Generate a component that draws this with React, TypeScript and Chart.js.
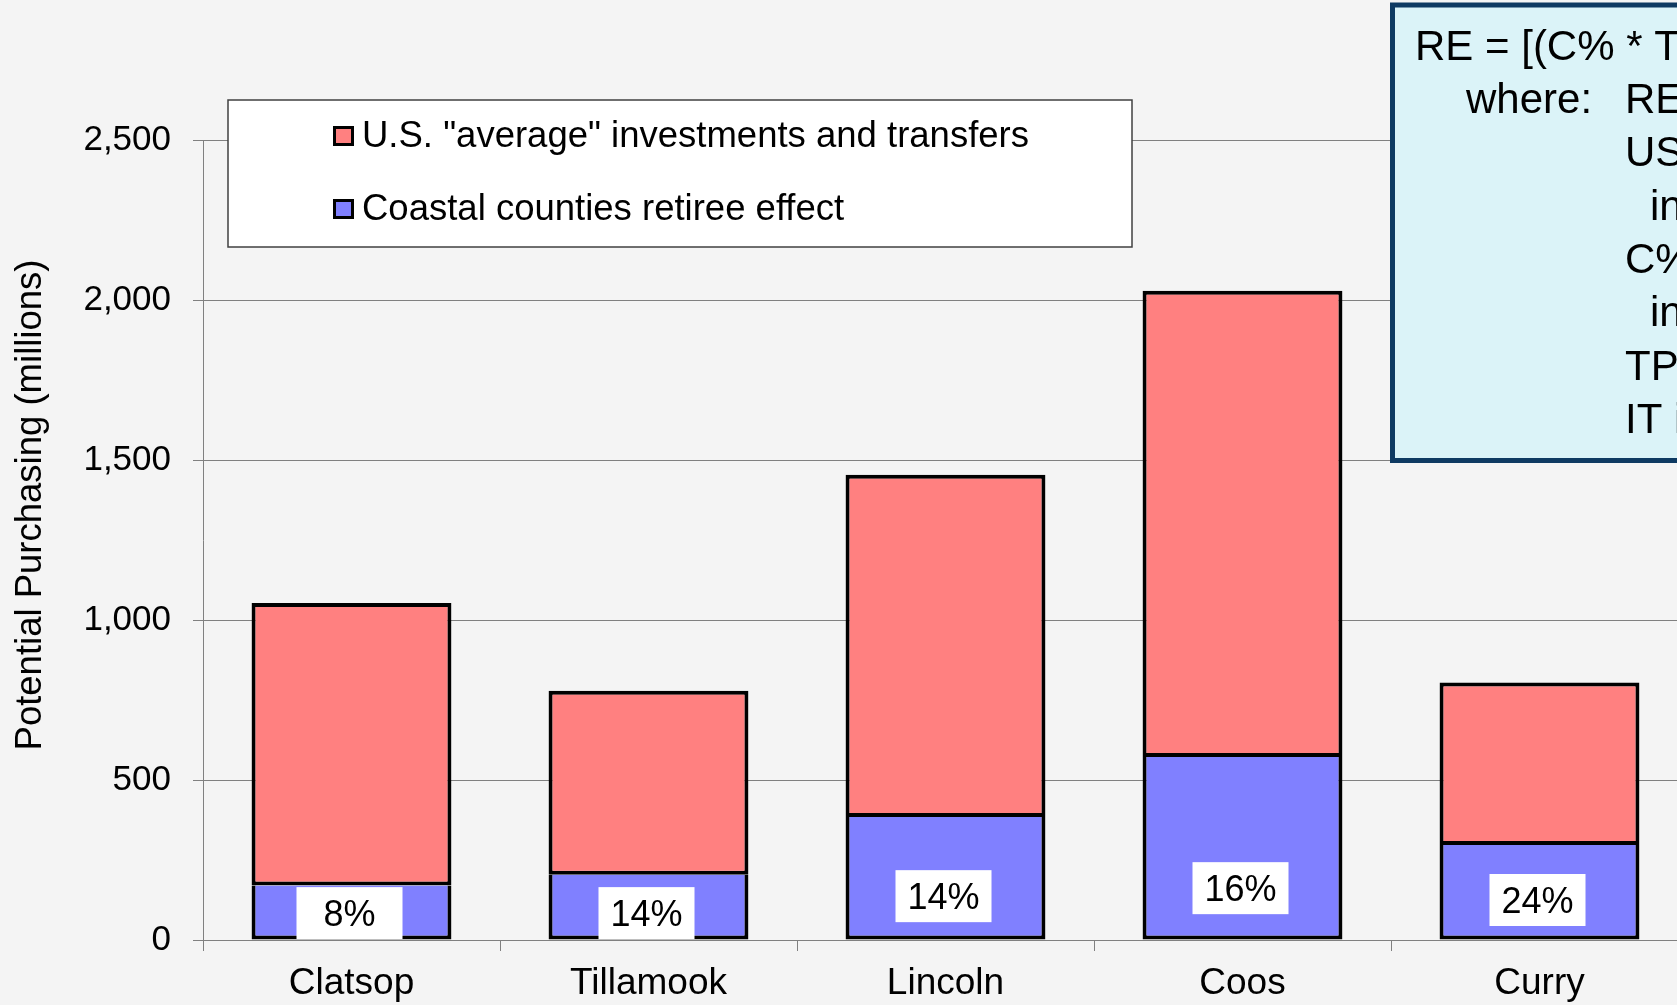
import React, { useEffect, useRef } from "react";
import { Chart, registerables } from "chart.js";

Chart.register(...registerables);

const counties = ["Clatsop", "Tillamook", "Lincoln", "Coos", "Curry"];
const retireeEffect = [170, 204, 384, 572, 297];
const usAverage = [883, 575, 1070, 1457, 508];
const retireeShareLabels = ["8%", "14%", "14%", "16%", "24%"];
const shareLabelAnchors = [84, 84, 137, 162, 125];
const yMin = 0;
const yMax = 2500;
const yStep = 500;

const seriesNames = ['U.S. "average" investments and transfers', "Coastal counties retiree effect"];
const yTitle = "Potential Purchasing (millions)";

const formulaHead = "RE = [(C% * TP) - (US% * TP)] * IT";
const formulaWhere = "where:";
const formulaDefs = [
  { text: "RE is the retiree effect", indent: false },
  { text: "US% is U.S. percent of population", indent: false },
  { text: "in retirement age groups", indent: true },
  { text: "C% is county percent of population", indent: false },
  { text: "in retirement age groups", indent: true },
  { text: "TP is total county population", indent: false },
  { text: "IT is per capita investments and transfers", indent: false },
];

const FONT = '"Liberation Sans", Arial, Helvetica, sans-serif';
const RED = "#FF8080";
const BLUE = "#8080FF";
const GRID = "#808080";

const overlayPlugin = {
  id: "overlay",
  beforeDraw(chart: any) {
    const { ctx, width, height } = chart;
    ctx.save();
    ctx.fillStyle = "#F4F4F4";
    ctx.fillRect(0, 0, width, height);
    ctx.restore();
  },
  afterDatasetsDraw(chart: any) {
    const { ctx } = chart;
    const xs = chart.scales.x;
    const ys = chart.scales.y;
    ctx.save();
    ctx.font = `36px ${FONT}`;
    ctx.textAlign = "center";
    ctx.textBaseline = "middle";
    retireeShareLabels.forEach((lab, i) => {
      const cx = xs.getPixelForValue(i) - 2;
      const cy = ys.getPixelForValue(shareLabelAnchors[i]);
      const w = i === 0 ? 106 : 96;
      const h = 52;
      ctx.fillStyle = "#FFFFFF";
      ctx.fillRect(cx - w / 2, cy - h / 2, w, h);
      ctx.fillStyle = "#000000";
      ctx.fillText(lab, cx, cy + 3);
    });
    ctx.restore();
  },
  afterDraw(chart: any) {
    const { ctx } = chart;
    ctx.save();
    // Legend box
    ctx.fillStyle = "#FFFFFF";
    ctx.fillRect(228, 100, 904, 147);
    ctx.strokeStyle = "#404040";
    ctx.lineWidth = 1.5;
    ctx.strokeRect(228, 100, 904, 147);
    const colors = [RED, BLUE];
    const rowsY = [136, 209];
    ctx.font = `36.5px ${FONT}`;
    ctx.textBaseline = "middle";
    ctx.textAlign = "left";
    seriesNames.forEach((name, i) => {
      const y = rowsY[i];
      ctx.fillStyle = "#000000";
      ctx.fillRect(333, y - 10, 21, 20);
      ctx.fillStyle = colors[i];
      ctx.fillRect(336, y - 7, 15, 14);
      ctx.fillStyle = "#000000";
      ctx.fillText(name, 362, y + 1);
    });

    // Y axis title
    ctx.save();
    ctx.translate(31, 505);
    ctx.rotate(-Math.PI / 2);
    ctx.textAlign = "center";
    ctx.textBaseline = "middle";
    ctx.font = `36.5px ${FONT}`;
    ctx.fillStyle = "#000000";
    ctx.fillText(yTitle, 0, 0);
    ctx.restore();

    // Formula box
    ctx.fillStyle = "#DBF3F8";
    ctx.fillRect(1392, 5, 400, 456);
    ctx.strokeStyle = "#0E3A62";
    ctx.lineWidth = 5;
    ctx.strokeRect(1392.5, 5, 400, 455.5);
    ctx.fillStyle = "#000000";
    ctx.font = `42px ${FONT}`;
    ctx.textAlign = "left";
    ctx.textBaseline = "alphabetic";
    ctx.fillText(formulaHead, 1415, 60);
    ctx.fillText(formulaWhere, 1466, 113);
    formulaDefs.forEach((d, i) => {
      const baseline = 113 + i * 53.3;
      ctx.fillText(d.text, d.indent ? 1650 : 1625, baseline);
    });
    ctx.restore();
  },
};

export default function App() {
  const ref = useRef<HTMLCanvasElement | null>(null);

  useEffect(() => {
    const prevMargin = document.body.style.margin;
    document.body.style.margin = "0";
    document.body.style.overflow = "hidden";
    const canvas = ref.current;
    if (!canvas) return;
    const chart = new Chart(canvas, {
      type: "bar",
      data: {
        labels: counties,
        datasets: [
          {
            label: seriesNames[1],
            data: retireeEffect,
            backgroundColor: BLUE,
            borderColor: "#000000",
            borderWidth: { top: 0, left: 4, right: 4, bottom: 4 },
            borderSkipped: false,
            stack: "s",
          },
          {
            label: seriesNames[0],
            data: usAverage,
            backgroundColor: RED,
            borderColor: "#000000",
            borderWidth: { top: 4, left: 4, right: 4, bottom: 4 },
            borderSkipped: false,
            stack: "s",
          },
        ],
      },
      options: {
        responsive: false,
        devicePixelRatio: 1,
        animation: false,
        events: [],
        layout: { padding: { top: 140, left: 0, right: 0, bottom: 0 } },
        datasets: {
          bar: { categoryPercentage: 0.673, barPercentage: 1 },
        },
        plugins: {
          legend: { display: false },
          tooltip: { enabled: false },
          title: { display: false },
        },
        scales: {
          x: {
            stacked: true,
            grid: {
              display: true,
              drawOnChartArea: false,
              drawTicks: true,
              tickLength: 11,
              color: GRID,
              offset: true,
            },
            border: { display: true, color: GRID, width: 1 },
            ticks: {
              color: "#000000",
              font: { family: FONT, size: 37 },
              padding: 11,
            },
            afterFit: (scale: any) => {
              scale.height = 65;
            },
          },
          y: {
            stacked: true,
            min: yMin,
            max: yMax,
            grid: {
              color: GRID,
              lineWidth: 1,
              tickLength: 10,
              drawTicks: true,
            },
            border: { display: true, color: GRID, width: 1 },
            ticks: {
              stepSize: yStep,
              color: "#000000",
              font: { family: FONT, size: 35 },
              padding: 22,
              callback: (v: any) => Number(v).toLocaleString("en-US"),
            },
            afterFit: (scale: any) => {
              scale.width = 203;
            },
          },
        },
      },
      plugins: [overlayPlugin],
    });
    return () => {
      chart.destroy();
      document.body.style.margin = prevMargin;
    };
  }, []);

  return (
    <div
      style={{
        position: "fixed",
        left: 0,
        top: 0,
        width: 1677,
        height: 1005,
        overflow: "hidden",
        background: "#F4F4F4",
      }}
    >
      <canvas ref={ref} width={1688} height={1005} style={{ display: "block" }} />
    </div>
  );
}
